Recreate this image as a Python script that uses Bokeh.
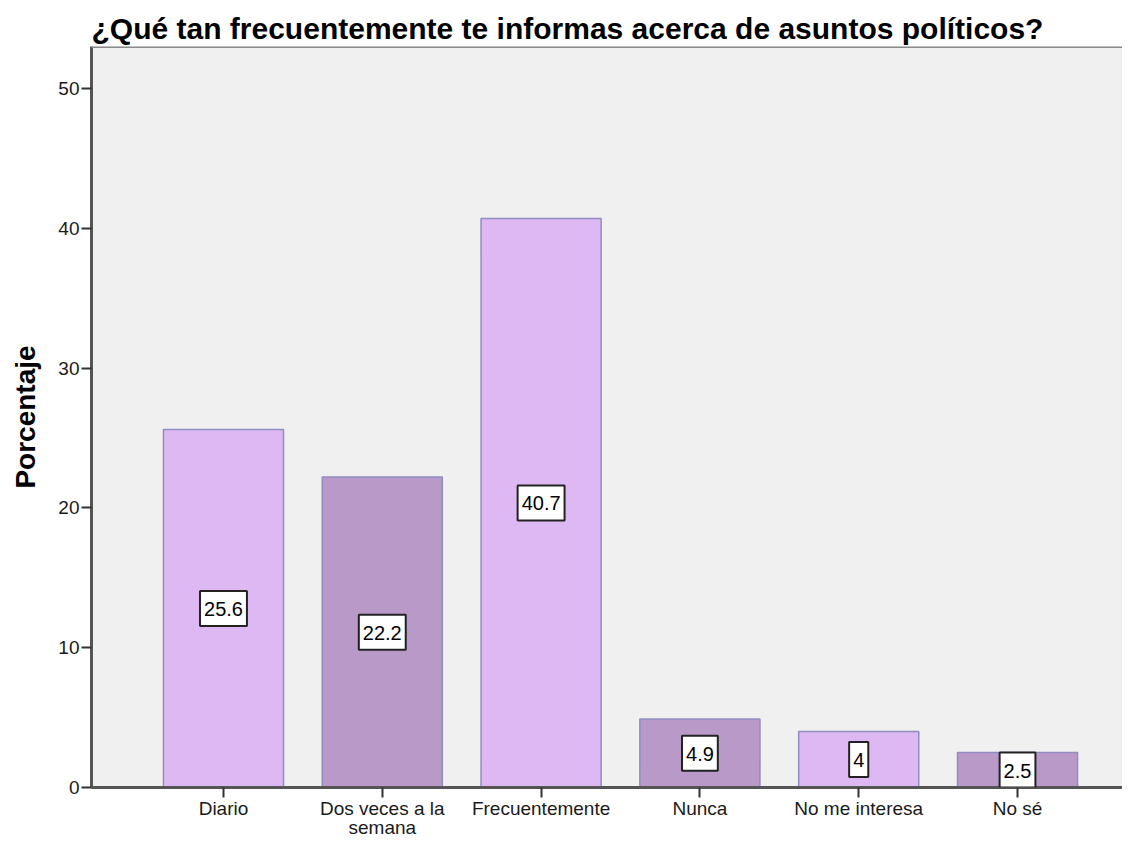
from bokeh.plotting import figure
from bokeh.models import Label, Span, FixedTicker, ColumnDataSource, Range1d
from bokeh.embed import file_html
from bokeh.resources import INLINE

categories = ["Diario", "Dos veces a la\nsemana", "Frecuentemente", "Nunca", "No me interesa", "No sé"]
values = [25.6, 22.2, 40.7, 4.9, 4.0, 2.5]
value_labels = ["25.6", "22.2", "40.7", "4.9", "4", "2.5"]
y_ticks = [0, 10, 20, 30, 40, 50]
bar_colors = ["#DDB8F2", "#B899C8", "#DDB8F2", "#B899C8", "#DDB8F2", "#B899C8"]

xs = list(range(len(categories)))
src = ColumnDataSource(dict(x=xs, top=values, color=bar_colors))

FONT = "Liberation Sans"
Y_END = 53.0

p = figure(width=1122, height=841, output_backend="svg", toolbar_location=None,
           x_range=Range1d(-0.831, 5.661), y_range=Range1d(0, Y_END),
           min_border_left=91, min_border_right=0, min_border_top=46, min_border_bottom=53,
           background_fill_color="#F0F0F0", border_fill_color="white")

p.title.text = "¿Qué tan frecuentemente  te informas acerca de asuntos políticos?"
p.title.text_font = FONT
p.title.text_font_size = "30px"
p.title.text_font_style = "bold"
p.title.text_color = "#000000"
p.title.align = "left"
p.title.offset = 0
p.title.standoff = 4

p.vbar(x="x", top="top", width=0.756, source=src, fill_color="color",
       line_color="#8E8EC0", line_width=1.5)

for xi, v, t in zip(xs, values, value_labels):
    p.add_layout(Label(x=xi, y=v / 2, text=t, text_align="center", text_baseline="middle",
                       text_font=FONT, text_font_size="20px", text_color="#000000",
                       background_fill_color="white", border_line_color="#222222",
                       border_line_width=2,
                       padding=dict(left=4, right=4, top=11, bottom=10)))

p.grid.visible = False
p.outline_line_color = None
p.add_layout(Span(location=Y_END, dimension="width", line_color="#8A8A8A", line_width=3))

p.xaxis.ticker = FixedTicker(ticks=xs)
p.xaxis.major_label_overrides = {i: c for i, c in zip(xs, categories)}
p.yaxis.ticker = FixedTicker(ticks=y_ticks)
for ax in (p.xaxis, p.yaxis):
    ax.axis_line_color = "#555555"
    ax.axis_line_width = 3
    ax.major_tick_line_color = "#333333"
    ax.major_tick_line_width = 2
    ax.major_tick_out = 10
    ax.major_tick_in = 0
    ax.minor_tick_line_color = None
    ax.major_label_text_font = FONT
    ax.major_label_text_font_size = "19px"
    ax.major_label_text_color = "#1A1A1A"
    ax.major_label_text_line_height = 0.95
p.xaxis.major_label_standoff = 0
p.yaxis.major_label_standoff = 2

p.yaxis.axis_label = "Porcentaje"
p.yaxis.axis_label_text_font = FONT
p.yaxis.axis_label_text_font_size = "28px"
p.yaxis.axis_label_text_font_style = "bold"
p.yaxis.axis_label_text_color = "#000000"
p.yaxis.axis_label_standoff = 14

open("out.html", "w").write(file_html(p, INLINE))
